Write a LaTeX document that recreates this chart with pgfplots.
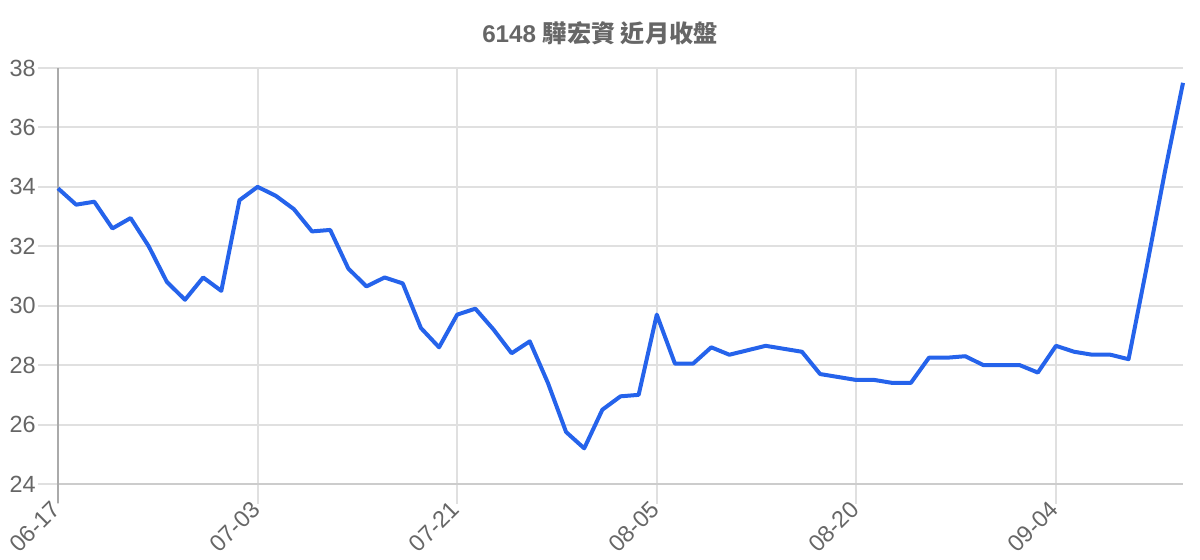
\documentclass[border=0pt]{standalone}
\usepackage{fontspec}
\setmainfont{Liberation Sans}
\newfontfamily\cjk{Noto Sans CJK TC Bold}
\usepackage{pgfplots}
\pgfplotsset{compat=1.18}
\definecolor{linecol}{HTML}{2563EB}
\definecolor{txtcol}{HTML}{666666}
\definecolor{gridcol}{HTML}{E0E0E0}
\definecolor{basecol}{HTML}{CCCCCC}
\definecolor{axiscol}{HTML}{AAAAAA}

\begin{document}
\begin{tikzpicture}
\path[use as bounding box] (-29pt,-38pt) rectangle (571pt,242pt);
\begin{axis}[
  at={(0,0)}, anchor=south west,
  scale only axis,
  width=562.5pt, height=208pt,
  xmin=0, xmax=62, ymin=24, ymax=38,
  xtick={0,11,22,33,44,55},
  xticklabels={06-17,07-03,07-21,08-05,08-20,09-04},
  ytick={24,26,...,38},
  xtick pos=bottom, ytick pos=left,
  grid=major,
  major grid style={gridcol, line width=1pt},
  tick align=outside,
  major tick length=10pt,
  tick style={gridcol, line width=1pt},
  axis line style={draw=none},
  ticklabel style={font=\fontsize{11.7}{13}\selectfont, text=txtcol},
  /pgf/number format/assume math mode=true,
  xticklabel style={rotate=45, anchor=east, inner sep=1pt},
  yticklabel style={inner sep=1pt},
  title={\bfseries 6148 {\cjk 驊宏資 近月收盤}},
  title style={font=\fontsize{12.1}{14}\selectfont, text=txtcol,
    at={(axis description cs:0.4818,1.055)}, anchor=center, yshift=0pt},
  clip=false,
]
\draw[basecol, line width=1pt] (rel axis cs:0,0) -- (rel axis cs:1,0);
\draw[axiscol, line width=1pt] (rel axis cs:0,1) -- ([yshift=-9.5pt]rel axis cs:0,0);
\addplot[linecol, line width=2pt, line join=round, mark=none] coordinates {
(0,33.95) (1,33.40) (2,33.50) (3,32.60) (4,32.95) (5,32.00) (6,30.80) (7,30.20)
(8,30.95) (9,30.50) (10,33.55) (11,34.00) (12,33.70) (13,33.25) (14,32.50) (15,32.55)
(16,31.25) (17,30.65) (18,30.95) (19,30.75) (20,29.25) (21,28.60) (22,29.70) (23,29.90)
(24,29.20) (25,28.40) (26,28.80) (27,27.40) (28,25.75) (29,25.20) (30,26.50) (31,26.95)
(32,27.00) (33,29.70) (34,28.05) (35,28.05) (36,28.60) (37,28.35) (38,28.50) (39,28.65)
(40,28.55) (41,28.45) (42,27.70) (43,27.60) (44,27.50) (45,27.50) (46,27.40) (47,27.40)
(48,28.25) (49,28.25) (50,28.30) (51,28.00) (52,28.00) (53,28.00) (54,27.75) (55,28.65)
(56,28.45) (57,28.35) (58,28.35) (59,28.20) (60,31.30) (61,34.50) (62,37.50)
};
\end{axis}
\end{tikzpicture}
\end{document}
